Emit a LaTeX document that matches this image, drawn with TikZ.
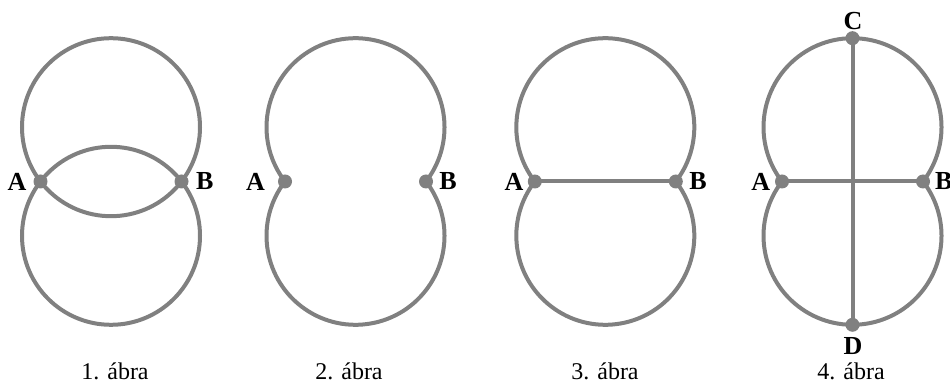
\documentclass[tikz,border=0pt]{standalone}
\usepackage{fontspec}
\setmainfont{Liberation Serif}
\definecolor{lg}{RGB}{128,128,128}
\begin{document}
\begin{tikzpicture}[x=1pt,y=1pt,
  curve/.style={draw=lg,line width=4pt},
  dot/.style={circle,fill=lg,inner sep=0pt,minimum size=14pt},
  lab/.style={font=\fontsize{26}{30}\selectfont\bfseries,inner sep=0pt},
  captxt/.style={font=\fontsize{24}{28}\selectfont,inner sep=0pt,anchor=base}]
\useasboundingbox (0,0) rectangle (950,385);
% ---------- 1. abra ----------
\begin{scope}[shift={(111,203.5)}]
  \coordinate (U1) at (0,54.3);
  \coordinate (L1) at (0,-54.3);
  \coordinate (A1) at (-70.5,0);
  \coordinate (B1) at (70.5,0);
  \draw[curve] (U1) circle[radius=89];
  \draw[curve] (L1) circle[radius=89];
  \node[dot] (dA1) at (A1) {};
  \node[dot] (dB1) at (B1) {};
\end{scope}
\node[lab] (la1) at (17,203.5) {A};
\node[lab] (lb1) at (204.7,203.5) {B};
\node[captxt] (cap1) at (115,5) {1. ábra};
% ---------- 2. abra ----------
\begin{scope}[shift={(355.5,203.5)}]
  \coordinate (A2) at (-70.5,0);
  \coordinate (B2) at (70.5,0);
  \draw[curve] (A2) arc[start angle=217.6,end angle=-37.6,radius=89];
  \draw[curve] (A2) arc[start angle=142.4,end angle=397.6,radius=89];
  \node[dot] (dA2) at (A2) {};
  \node[dot] (dB2) at (B2) {};
\end{scope}
\node[lab] (la2) at (255.5,203.5) {A};
\node[lab] (lb2) at (448,203.5) {B};
\node[captxt] (cap2) at (349,5) {2. ábra};
% ---------- 3. abra ----------
\begin{scope}[shift={(605.3,203.5)}]
  \coordinate (A3) at (-70.5,0);
  \coordinate (B3) at (70.5,0);
  \draw[curve] (A3) arc[start angle=217.6,end angle=-37.6,radius=89];
  \draw[curve] (A3) arc[start angle=142.4,end angle=397.6,radius=89];
  \draw[curve] (A3) -- (B3);
  \node[dot] (dA3) at (A3) {};
  \node[dot] (dB3) at (B3) {};
\end{scope}
\node[lab] (la3) at (514,203.5) {A};
\node[lab] (lb3) at (698,203.5) {B};
\node[captxt] (cap3) at (605,5) {3. ábra};
% ---------- 4. abra ----------
\begin{scope}[shift={(852.5,203.5)}]
  \coordinate (A4) at (-70.5,0);
  \coordinate (B4) at (70.5,0);
  \coordinate (C4) at (0,143.3);
  \coordinate (D4) at (0,-143.3);
  \draw[curve] (A4) arc[start angle=217.6,end angle=-37.6,radius=89];
  \draw[curve] (A4) arc[start angle=142.4,end angle=397.6,radius=89];
  \draw[curve] (A4) -- (B4);
  \draw[curve] (C4) -- (D4);
  \node[dot] (dA4) at (A4) {};
  \node[dot] (dB4) at (B4) {};
  \node[dot] (dC4) at (C4) {};
  \node[dot] (dD4) at (D4) {};
\end{scope}
\node[lab] (la4) at (760.8,203.5) {A};
\node[lab] (lb4) at (943.7,203.5) {B};
\node[lab] (lc4) at (853,363.5) {C};
\node[lab] (ld4) at (853,39) {D};
\node[captxt] (cap4) at (851,5) {4. ábra};
\end{tikzpicture}
\end{document}
